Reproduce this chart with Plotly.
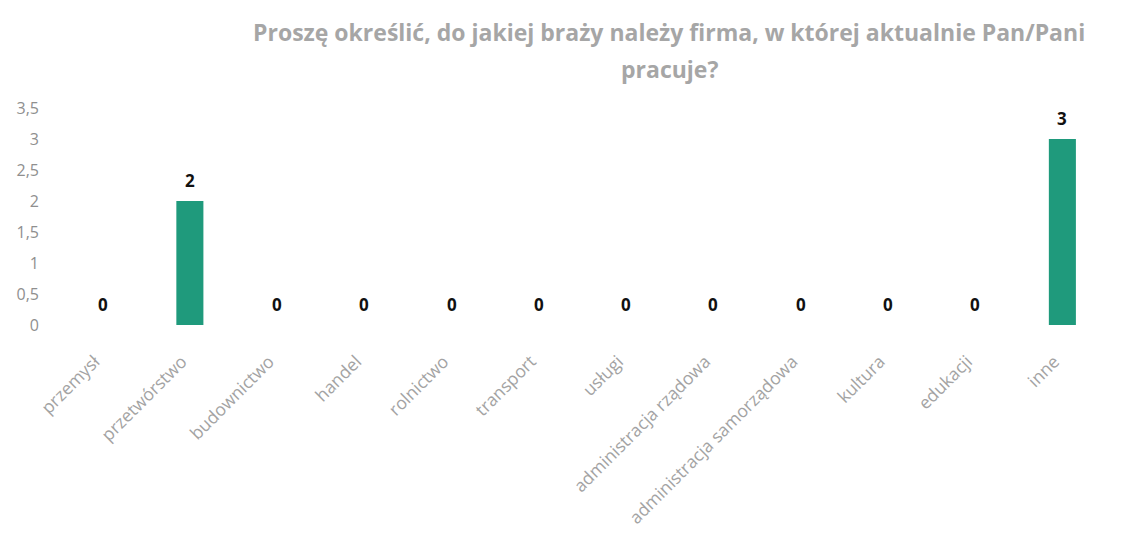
import plotly.graph_objects as go

categories = ["przemysł", "przetwórstwo", "budownictwo", "handel", "rolnictwo", "transport",
              "usługi", "administracja rządowa", "administracja samorządowa", "kultura",
              "edukacji", "inne"]
values = [0, 2, 0, 0, 0, 0, 0, 0, 0, 0, 0, 3]
y_ticks = [0, 0.5, 1, 1.5, 2, 2.5, 3, 3.5]
y_tick_labels = ["0", "0,5", "1", "1,5", "2", "2,5", "3", "3,5"]
title_lines = ["Proszę określić, do jakiej braży należy firma, w której aktualnie Pan/Pani",
               "pracuje?"]

# page has an 8px body margin; figure size/margins compensate
W, H = 1116, 537
ML, MR, MT, MB = 51, 18, 100, 220
plot_w = W - ML - MR
plot_h = H - MT - MB

fig = go.Figure(go.Bar(
    x=categories, y=values,
    marker=dict(color="#1f9a7c", line=dict(width=0)),
    width=0.31,
    cliponaxis=False,
    hoverinfo="x+y",
))

annotations = []
for c, v in zip(categories, values):
    annotations.append(dict(
        x=c, y=v, xref="x", yref="y", text="<b>%d</b>" % v, showarrow=False,
        yanchor="middle", yshift=21,
        font=dict(family="Open Sans", size=17, color="#111111"),
    ))
title_px = [(669, 32), (669, 69)]
for (px, py), line in zip(title_px, title_lines):
    fx, fy = px - 8, py - 8
    annotations.append(dict(
        x=(fx - ML) / plot_w, y=(H - MB - fy) / plot_h, xref="paper", yref="paper",
        xanchor="center", yanchor="middle", showarrow=False,
        text="<b>%s</b>" % line,
        font=dict(family="Open Sans", size=23, color="#a6a6a6"),
    ))

fig.update_layout(
    width=W, height=H,
    paper_bgcolor="white", plot_bgcolor="white",
    margin=dict(l=ML, r=MR, t=MT, b=MB),
    showlegend=False,
    annotations=annotations,
)
fig.update_xaxes(
    tickangle=-45,
    tickfont=dict(family="Open Sans", size=17.5, color="#a3a3a3"),
    showline=False, showgrid=False, ticks="",
    automargin=False, ticklabelstandoff=22, ticklabelshift=-8,
)
fig.update_yaxes(
    range=[0, 3.5], tickvals=y_ticks, ticktext=y_tick_labels,
    tickfont=dict(family="Open Sans", size=16, color="#8f8f8f"),
    showgrid=False, zeroline=False, showline=False, ticks="",
    ticklabelstandoff=19, automargin=False,
)

fig.write_html("out.html")
